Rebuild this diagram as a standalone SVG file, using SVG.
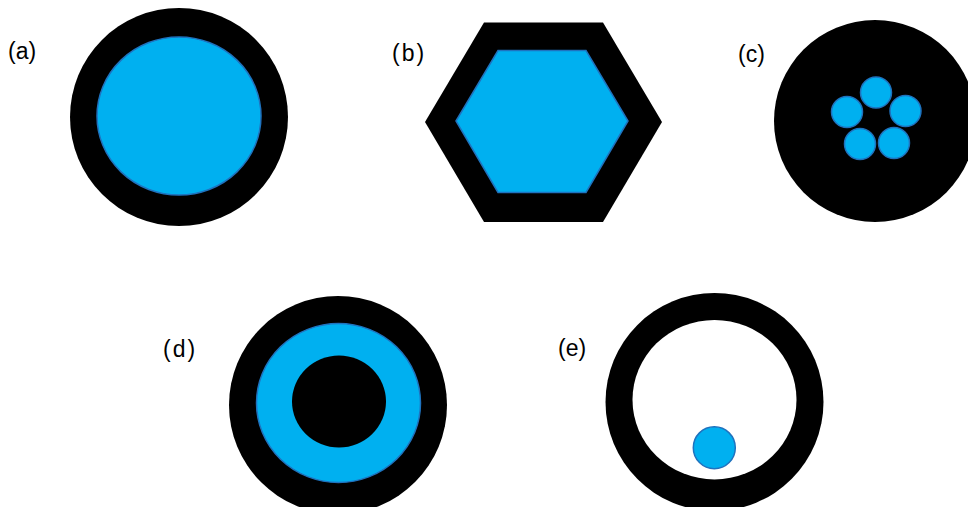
<svg xmlns="http://www.w3.org/2000/svg" width="968" height="507" viewBox="0 0 968 507">
<style>
.lbl{font-family:"Liberation Sans",Arial,sans-serif;font-size:23px;fill:#000}
.blk{fill:#000}
.blue{fill:#00B0F0;stroke:#1F72BE;stroke-width:1.5}
.wht{fill:#fff}
</style>
<rect width="968" height="507" fill="#fff"/>
<g id="a">
<circle class="blk" cx="179" cy="117" r="109"/>
<ellipse class="blue" cx="179" cy="116" rx="82" ry="79"/>
<text class="lbl" x="8" y="59">(a)</text>
</g>
<g id="b">
<polygon class="blk" points="425,122 484,22.5 603,22.5 662,122 603,222 484,222"/>
<polygon class="blue" points="456,121 498,50.5 586,50.5 628,121 586,192.5 498,192.5"/>
<text class="lbl" x="392" y="61" letter-spacing="2">(b)</text>
</g>
<g id="c">
<circle class="blk" cx="875" cy="121" r="101"/>
<circle class="blue" cx="876" cy="92.5" r="15.5"/>
<circle class="blue" cx="847" cy="112" r="15.5"/>
<circle class="blue" cx="905.5" cy="111" r="15.5"/>
<circle class="blue" cx="860" cy="144" r="15.5"/>
<circle class="blue" cx="894" cy="143" r="15.5"/>
<text class="lbl" x="738" y="62">(c)</text>
</g>
<g id="d">
<circle class="blk" cx="338" cy="405" r="109"/>
<ellipse class="blue" cx="338.5" cy="403" rx="82" ry="79.5"/>
<ellipse class="blk" cx="339" cy="401.5" rx="47" ry="46"/>
<text class="lbl" x="163" y="357" letter-spacing="2">(d)</text>
</g>
<g id="e">
<circle class="blk" cx="714.5" cy="402" r="109"/>
<ellipse class="wht" cx="714.5" cy="399.7" rx="82" ry="79.7"/>
<circle class="blue" cx="714.3" cy="447.7" r="21"/>
<text class="lbl" x="558" y="356">(e)</text>
</g>
<g id="connectors"></g>
</svg>
